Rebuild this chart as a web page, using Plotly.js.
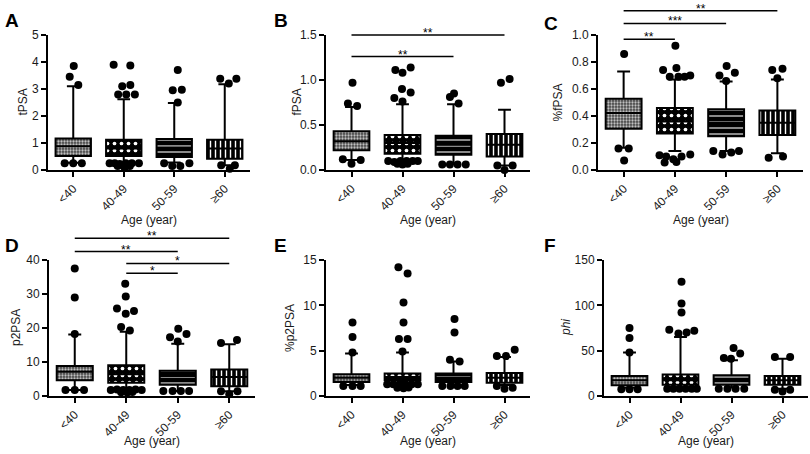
<!DOCTYPE html>
<html>
<head>
<meta charset="utf-8">
<script src="https://cdn.plot.ly/plotly-3.0.1.min.js"></script>
<style>html,body{margin:0;padding:0;background:#fff;}#chart{width:810px;height:454px;}</style>
</head>
<body>
<div id="chart"></div>
<script>
// ---------- data ----------
const ageGroups = ['<40', '40-49', '50-59', '≥60'];
const xTitle = 'Age (year)';

// A: tPSA
const tpsaQ1 = [0.52, 0.52, 0.48, 0.42];
const tpsaMed = [0.88, 0.80, 0.82, 0.80];
const tpsaQ3 = [1.17, 1.12, 1.15, 1.12];
const tpsaLo = [0.27, 0.22, 0.28, 0.18];
const tpsaHi = [3.10, 2.62, 2.48, 3.18];
const tpsaOutX = [0.01, -0.07, 0.10, -0.17, 0, 0.17,
  0.80, 1.13, 1.13, 0.97, 0.89, 1.05, 1.22,
  0.72, 0.82, 0.92, 1.04, 1.16, 1.30, 0.88, 1.00, 1.12, 1.02,
  2.07, 1.97, 2.15, 2.07, 1.80, 1.96, 2.12, 2.30,
  2.91, 3.23, 3.08, 2.93, 3.10, 3.20];
const tpsaOutY = [3.85, 3.45, 3.15, 0.25, 0.25, 0.25,
  3.90, 3.87, 3.15, 3.10, 2.80, 2.80, 2.80,
  0.25, 0.25, 0.22, 0.25, 0.25, 0.25, 0.15, 0.15, 0.15, 0.08,
  3.70, 2.95, 2.97, 2.50, 0.25, 0.15, 0.15, 0.25,
  3.38, 3.38, 3.20, 0.18, 0.05, 0.18];

// B: fPSA
const fpsaQ1 = [0.22, 0.18, 0.17, 0.15];
const fpsaMed = [0.32, 0.30, 0.28, 0.28];
const fpsaQ3 = [0.43, 0.39, 0.38, 0.40];
const fpsaLo = [0.11, 0.09, 0.07, 0.05];
const fpsaHi = [0.70, 0.73, 0.73, 0.67];
const fpsaOutX = [0.02, -0.07, 0.11, -0.17, 0.18, 0.00,
  0.86, 1.00, 1.16, 0.99, 1.16, 0.84, 1.00,
  0.72, 0.84, 0.96, 1.08, 1.20, 1.30, 0.90, 1.00, 1.10,
  2.01, 1.93, 2.10, 1.78, 1.93, 2.08, 2.24,
  2.93, 3.10, 2.86, 3.16, 3.00];
const fpsaOutY = [0.97, 0.74, 0.71, 0.12, 0.11, 0.07,
  1.11, 1.08, 1.14, 0.90, 0.86, 0.80, 0.76,
  0.10, 0.09, 0.10, 0.10, 0.10, 0.10, 0.07, 0.06, 0.07,
  0.85, 0.81, 0.74, 0.06, 0.06, 0.06, 0.06,
  0.97, 1.01, 0.05, 0.05, 0.00];

// C: %fPSA
const pfpsaQ1 = [0.305, 0.27, 0.25, 0.26];
const pfpsaMed = [0.423, 0.36, 0.35, 0.35];
const pfpsaQ3 = [0.528, 0.46, 0.45, 0.44];
const pfpsaLo = [0.165, 0.14, 0.14, 0.125];
const pfpsaHi = [0.73, 0.67, 0.655, 0.67];
const pfpsaOutX = [0.01, -0.10, 0.10, 0.01,
  1.01, 0.77, 1.03, 0.90, 1.07, 1.19, 1.30,
  0.70, 0.83, 0.97, 0.80, 1.03, 1.13, 1.30,
  2.01, 1.87, 2.17, 2.00, 1.75, 1.93, 2.10, 2.25,
  2.90, 3.10, 3.00, 2.83, 3.11];
const pfpsaOutY = [0.86, 0.16, 0.16, 0.07,
  0.92, 0.74, 0.755, 0.69, 0.69, 0.69, 0.70,
  0.11, 0.10, 0.08, 0.055, 0.06, 0.10, 0.115,
  0.77, 0.70, 0.72, 0.66, 0.14, 0.115, 0.13, 0.14,
  0.74, 0.75, 0.68, 0.09, 0.10];

// D: p2PSA
const p2Q1 = [4.6, 3.9, 3.3, 2.85];
const p2Med = [7.1, 6.4, 5.9, 5.6];
const p2Q3 = [8.85, 9.05, 7.4, 7.8];
const p2Lo = [1.8, 1.8, 1.5, 1.4];
const p2Hi = [18.1, 18.9, 15.4, 15.2];
const p2OutX = [0, 0, 0, -0.18, 0, 0.18,
  0.98, 0.99, 0.82, 0.99, 1.15, 0.90, 1.07,
  0.70, 0.82, 0.94, 1.06, 1.18, 1.30, 0.90, 1.02, 1.12,
  2.01, 1.85, 2.17, 2.00, 1.72, 1.90, 2.06, 2.22,
  2.84, 3.15, 2.84, 3.16, 3.00];
const p2OutY = [37.5, 29.0, 18.2, 1.8, 1.8, 1.8,
  33.0, 29.3, 25.7, 24.2, 25.0, 20.3, 19.3,
  1.8, 1.9, 1.8, 1.8, 1.9, 1.8, 1.1, 1.0, 1.2,
  19.8, 17.3, 18.2, 16.0, 1.5, 1.5, 1.5, 1.5,
  15.6, 16.5, 1.4, 1.4, 0.5];

// E: %p2PSA
const pp2Q1 = [1.55, 1.73, 1.55, 1.45];
const pp2Med = [2.0, 2.1, 2.0, 2.0];
const pp2Q3 = [2.4, 2.47, 2.47, 2.55];
const pp2Lo = [1.2, 1.3, 1.2, 1.2];
const pp2Hi = [4.7, 4.8, 3.8, 4.3];
const pp2OutX = [0.02, 0.02, 0.02, -0.16, 0.02, 0.18,
  0.92, 1.10, 1.02, 1.02, 0.93, 1.10, 1.00,
  0.70, 0.82, 0.94, 1.06, 1.18, 1.30, 0.90, 1.02, 1.12,
  2.02, 2.02, 1.93, 2.12, 1.78, 1.94, 2.08, 2.22,
  2.85, 3.03, 3.20, 2.85, 3.00, 3.16];
const pp2OutY = [8.1, 6.5, 4.8, 1.1, 1.1, 1.1,
  14.2, 13.5, 10.3, 8.1, 6.3, 6.3, 4.9,
  1.3, 1.3, 1.3, 1.3, 1.3, 1.3, 0.9, 0.85, 0.95,
  8.5, 7.0, 4.0, 3.8, 1.1, 1.1, 1.1, 1.1,
  4.4, 4.4, 5.1, 1.1, 0.8, 0.9];

// F: phi
const phiQ1 = [11.8, 12.5, 12.5, 12.5];
const phiMed = [17.3, 17.3, 18.0, 17.3];
const phiQ3 = [22.0, 23.6, 22.8, 22.0];
const phiLo = [9.0, 9.0, 9.5, 8.0];
const phiHi = [48, 65, 39.4, 41];
const phiOutX = [0, 0, 0, -0.16, 0, 0.16,
  1.02, 1.02, 1.02, 0.78, 0.96, 1.12, 1.27,
  0.74, 0.86, 0.98, 1.10, 1.22, 1.32,
  2.04, 2.17, 1.85, 1.99, 1.75, 1.92, 2.08, 2.25,
  2.85, 3.15, 2.85, 3.00, 3.15];
const phiOutY = [75, 64, 48, 7.5, 7.5, 7.5,
  126, 102, 92, 73, 69, 70, 72,
  8, 8, 8, 8, 8, 8,
  53, 47, 42, 41, 8, 8, 8, 8,
  43, 43, 7, 5, 7];

// significance brackets
const sigBFrom = [0, 0], sigBTo = [3, 2], sigBY = [1.5, 1.26], sigBText = ['**', '**'];
const sigCFrom = [0, 0, 0], sigCTo = [1, 2, 3], sigCY = [0.968, 1.086, 1.18], sigCText = ['**', '***', '**'];
const sigDFrom = [0, 0, 1, 1], sigDTo = [3, 2, 3, 2], sigDY = [46.4, 42.5, 39.0, 36.1], sigDText = ['**', '**', '*', '*'];

// ---------- layout helpers ----------
const W = 810, H = 454;
const FONT = 'Liberation Sans, Arial, Helvetica, sans-serif';
const panels = [
  {letter: 'A', title: 'tPSA', q1: tpsaQ1, med: tpsaMed, q3: tpsaQ3, lo: tpsaLo, hi: tpsaHi, ox: tpsaOutX, oy: tpsaOutY,
   ymax: 5, dtick: 1, fmt: '', px: [48, 250], py: [35, 170], xt: 220},
  {letter: 'B', title: 'fPSA', q1: fpsaQ1, med: fpsaMed, q3: fpsaQ3, lo: fpsaLo, hi: fpsaHi, ox: fpsaOutX, oy: fpsaOutY,
   ymax: 1.5, dtick: 0.5, fmt: '.1f', px: [326, 530], py: [35, 170], xt: 220,
   sig: [sigBFrom, sigBTo, sigBY, sigBText]},
  {letter: 'C', title: '%fPSA', q1: pfpsaQ1, med: pfpsaMed, q3: pfpsaQ3, lo: pfpsaLo, hi: pfpsaHi, ox: pfpsaOutX, oy: pfpsaOutY,
   ymax: 1.0, dtick: 0.2, fmt: '.1f', px: [598, 803], py: [35, 170], xt: 220,
   sig: [sigCFrom, sigCTo, sigCY, sigCText]},
  {letter: 'D', title: 'p2PSA', q1: p2Q1, med: p2Med, q3: p2Q3, lo: p2Lo, hi: p2Hi, ox: p2OutX, oy: p2OutY,
   ymax: 40, dtick: 10, fmt: '', px: [49, 255], py: [260, 396], xt: 441,
   sig: [sigDFrom, sigDTo, sigDY, sigDText]},
  {letter: 'E', title: '%p2PSA', q1: pp2Q1, med: pp2Med, q3: pp2Q3, lo: pp2Lo, hi: pp2Hi, ox: pp2OutX, oy: pp2OutY,
   ymax: 15, dtick: 5, fmt: '', px: [326, 530], py: [260, 396], xt: 441},
  {letter: 'F', title: '<i>phi</i>', q1: phiQ1, med: phiMed, q3: phiQ3, lo: phiLo, hi: phiHi, ox: phiOutX, oy: phiOutY,
   ymax: 150, dtick: 50, fmt: '', px: [604, 808], py: [260, 396], xt: 441}
];
const letterPos = [[3, 20], [272, 20], [542, 24], [3, 245], [272, 245], [542, 245]];
const yTitleX = [22, 296, 557, 16, 290, 566];

const patShape = ['.', '.', '-', '|'];
const patSize = [3, 7, 6, 5];
const patSolid = [0.45, 0.22, 0.18, 0.28];
const patBg = ['#444444', '#000000', '#000000', '#000000'];
const patFg = ['#c0c0c0', '#ffffff', '#ffffff', '#ffffff'];

const traces = [];
const layout = {
  width: W, height: H,
  margin: {l: 0, r: 0, t: 0, b: 0},
  paper_bgcolor: '#fff', plot_bgcolor: 'rgba(0,0,0,0)',
  showlegend: false,
  font: {family: FONT, size: 12, color: '#1a1a1a'},
  shapes: [], annotations: []
};

panels.forEach((p, i) => {
  const k = i + 1;
  const xa = 'x' + (k === 1 ? '' : k), ya = 'y' + (k === 1 ? '' : k);
  const xd = [p.px[0] / W, p.px[1] / W];
  const yd = [1 - p.py[1] / H, 1 - p.py[0] / H];
  const cats = [0, 1, 2, 3];
  traces.push({
    type: 'bar', x: cats, base: p.q1, y: p.q3.map((v, j) => v - p.q1[j]),
    width: 0.7, xaxis: xa, yaxis: ya, hoverinfo: 'skip',
    marker: {color: '#000', line: {width: 0},
      pattern: {shape: patShape, size: patSize, solidity: patSolid, bgcolor: patBg, fgcolor: patFg, fillmode: 'replace'}}
  });
  traces.push({
    type: 'box', orientation: 'v', x: cats, q1: p.q1, median: p.med, q3: p.q3,
    lowerfence: p.lo, upperfence: p.hi, width: 0.7, whiskerwidth: 0.36,
    boxpoints: false, xaxis: xa, yaxis: ya, hoverinfo: 'skip',
    line: {color: '#000', width: 2}, fillcolor: 'rgba(0,0,0,0)'
  });
  traces.push({
    type: 'scatter', mode: 'markers', x: p.ox, y: p.oy, xaxis: xa, yaxis: ya,
    cliponaxis: false, hoverinfo: 'skip',
    marker: {size: 8, color: '#000', line: {width: 0}}
  });
  layout['xaxis' + (k === 1 ? '' : k)] = {
    domain: xd, anchor: ya, range: [-0.5, 3.5], tickvals: cats, ticktext: ageGroups,
    tickangle: -45, showline: true, linecolor: '#000', linewidth: 2,
    ticks: 'outside', ticklen: 5, tickwidth: 2, tickcolor: '#000',
    showgrid: false, zeroline: false, fixedrange: true, automargin: false,
    tickfont: {family: FONT, size: 12, color: '#1a1a1a'}
  };
  layout['yaxis' + (k === 1 ? '' : k)] = {
    domain: yd, anchor: xa, range: [0, p.ymax], dtick: p.dtick, tick0: 0, tickformat: p.fmt,
    showline: true, linecolor: '#000', linewidth: 2,
    ticks: 'outside', ticklen: 5, tickwidth: 2, tickcolor: '#000',
    showgrid: false, zeroline: false, fixedrange: true, automargin: false,
    tickfont: {family: FONT, size: 12, color: '#1a1a1a'}
  };
  // y-axis title
  layout.annotations.push({
    xref: 'paper', yref: 'paper', x: yTitleX[i] / W, y: (yd[0] + yd[1]) / 2,
    xanchor: 'center', yanchor: 'middle', textangle: -90, showarrow: false,
    text: p.title, font: {family: FONT, size: 12, color: '#1a1a1a'}
  });
  // x-axis title
  layout.annotations.push({
    xref: 'paper', yref: 'paper', x: (xd[0] + xd[1]) / 2, y: 1 - p.xt / H,
    xanchor: 'center', yanchor: 'middle', showarrow: false,
    text: xTitle, font: {family: FONT, size: 12, color: '#1a1a1a'}
  });
  // panel letter
  layout.annotations.push({
    xref: 'paper', yref: 'paper', x: letterPos[i][0] / W, y: 1 - letterPos[i][1] / H,
    xanchor: 'left', yanchor: 'middle', showarrow: false,
    text: '<b>' + p.letter + '</b>', font: {family: FONT, size: 19, color: '#000'}
  });
  // significance brackets
  if (p.sig) {
    const [from, to, yv, txt] = p.sig;
    from.forEach((a, j) => {
      const yp = yd[0] + (yv[j] / p.ymax) * (yd[1] - yd[0]);
      layout.shapes.push({type: 'line', xref: xa, yref: 'paper', x0: a, x1: to[j], y0: yp, y1: yp,
        line: {color: '#000', width: 1.5}});
      layout.annotations.push({xref: xa, yref: 'paper', x: (a + to[j]) / 2, y: yp, yanchor: 'middle',
        yshift: 2, showarrow: false, text: txt[j], font: {family: FONT, size: 12, color: '#000'}});
    });
  }
});

Plotly.newPlot('chart', traces, layout, {staticPlot: true, displayModeBar: false});
</script>
</body>
</html>
